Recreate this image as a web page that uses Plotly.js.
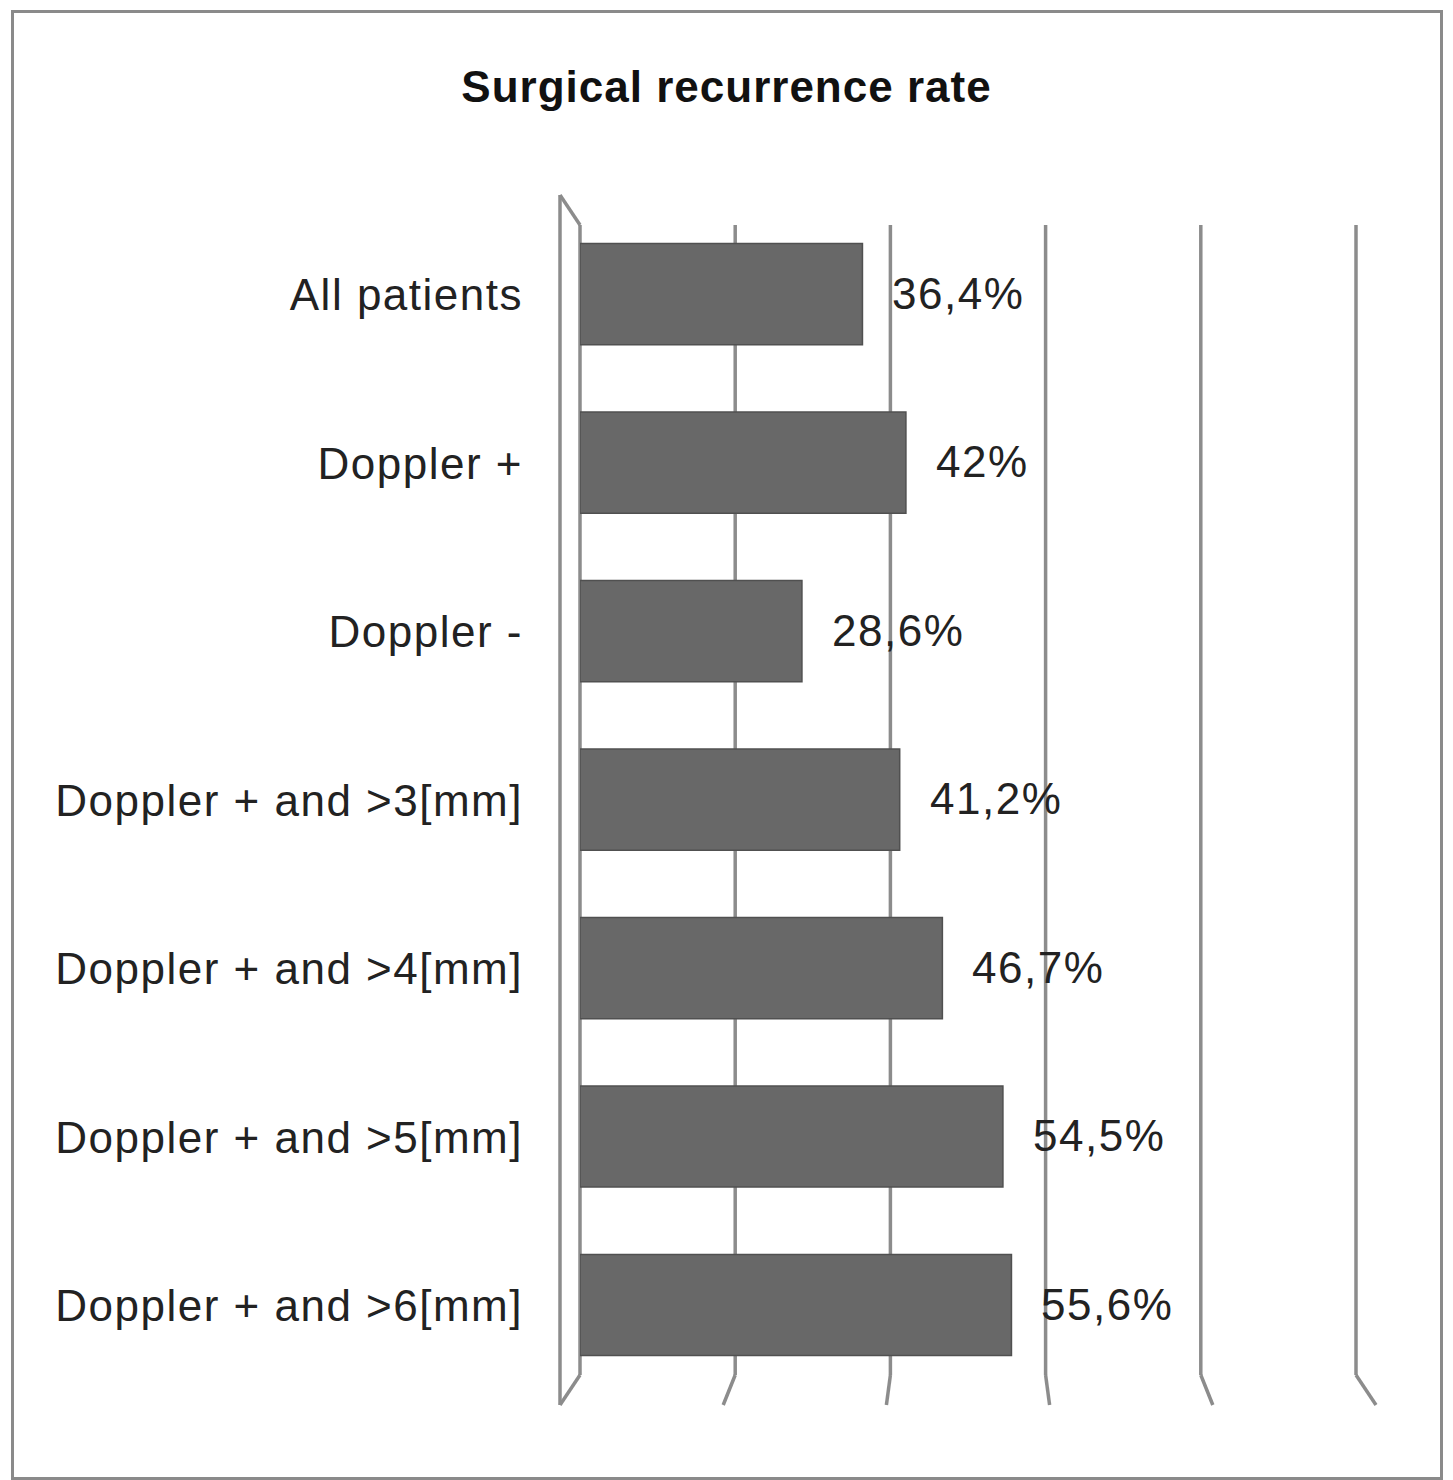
<!DOCTYPE html>
<html>
<head>
<meta charset="utf-8">
<script src="https://cdn.plot.ly/plotly-3.0.1.min.js"></script>
<style>
  html, body { margin: 0; padding: 0; background: #fff; }
  #wrap { position: relative; width: 1453px; height: 1480px; }
  #chart { width: 1453px; height: 1480px; }
  #frame { position: absolute; left: 11px; top: 10px; width: 1426px; height: 1464px;
           border: 3px solid #8a8a8a; pointer-events: none; }
  .ytick text, .annotation-text { letter-spacing: 1.5px; }
  .gtitle { letter-spacing: 1px; }
</style>
</head>
<body>
<div id="wrap">
  <div id="chart"></div>
  <div id="frame"></div>
</div>
<script>
const categories = [
  "All patients",
  "Doppler +",
  "Doppler -",
  "Doppler + and >3[mm]",
  "Doppler + and >4[mm]",
  "Doppler + and >5[mm]",
  "Doppler + and >6[mm]"
];
const values = [36.4, 42, 28.6, 41.2, 46.7, 54.5, 55.6];
const xTicks = [0, 20, 40, 60, 80, 100];
const chartTitle = "Surgical recurrence rate";

const labels = values.map(v => String(v).replace('.', ',') + '%');

const gridColor = '#8c8c8c';
const font = 'Liberation Sans, Arial, sans-serif';
const xRange = [0, 100];
const toPaper = t => (t - xRange[0]) / (xRange[1] - xRange[0]);

const trace = {
  type: 'bar',
  orientation: 'h',
  x: values,
  y: categories,
  width: 0.6,
  marker: { color: '#686868', line: { color: '#505050', width: 1.5 } },
  hoverinfo: 'skip'
};

const annotations = values.map((v, i) => ({
  x: v, y: categories[i], xref: 'x', yref: 'y',
  text: labels[i], showarrow: false,
  xanchor: 'left', yanchor: 'middle', xshift: 28, yshift: 1,
  font: { family: font, size: 44, color: '#222' }
}));

// gridlines + 3D floor/wall decoration derived from tick positions
const shapes = [];
const lineStyle = { color: gridColor, width: 3.5 };
xTicks.forEach((t, i) => {
  const dx = -20 + 40 * i / (xTicks.length - 1);
  shapes.push({
    type: 'line', xref: 'paper', yref: 'paper',
    x0: toPaper(t), x1: toPaper(t), y0: 0, y1: 1,
    line: lineStyle, layer: 'below'
  });
  shapes.push({
    type: 'line', xref: 'paper', yref: 'paper',
    xsizemode: 'pixel', xanchor: toPaper(t), x0: 0, x1: dx,
    ysizemode: 'pixel', yanchor: 0, y0: 0, y1: -30,
    line: lineStyle, layer: 'below'
  });
});
// left wall
shapes.push({
  type: 'line', xref: 'paper', yref: 'paper',
  xsizemode: 'pixel', xanchor: toPaper(xTicks[0]), x0: -20, x1: -20,
  ysizemode: 'pixel', yanchor: 0, y0: -30, y1: 1180,
  line: lineStyle, layer: 'below'
});
shapes.push({
  type: 'line', xref: 'paper', yref: 'paper',
  xsizemode: 'pixel', xanchor: toPaper(xTicks[0]), x0: -20, x1: 0,
  ysizemode: 'pixel', yanchor: 1, y0: 30, y1: 0,
  line: lineStyle, layer: 'below'
});

const layout = {
  width: 1453, height: 1480,
  paper_bgcolor: '#ffffff', plot_bgcolor: '#ffffff',
  margin: { l: 580, r: 97, t: 225, b: 105 },
  title: {
    text: '<b>' + chartTitle + '</b>',
    x: 0.5, xref: 'container', xanchor: 'center',
    y: 1 - 87 / 1480, yref: 'container', yanchor: 'middle',
    font: { family: font, size: 44, color: '#111' }
  },
  showlegend: false,
  xaxis: {
    range: xRange, tickvals: xTicks, showticklabels: false,
    showgrid: false, zeroline: false, showline: false, fixedrange: true
  },
  yaxis: {
    type: 'category',
    categoryorder: 'array', categoryarray: categories,
    range: [6.415, -0.41],
    showgrid: false, zeroline: false, showline: false,
    ticks: '', ticklabelstandoff: 56, ticklabelshift: -1,
    tickfont: { family: font, size: 44, color: '#222' },
    fixedrange: true
  },
  annotations: annotations,
  shapes: shapes
};

Plotly.newPlot('chart', [trace], layout, { displayModeBar: false, staticPlot: true });
</script>
</body>
</html>
